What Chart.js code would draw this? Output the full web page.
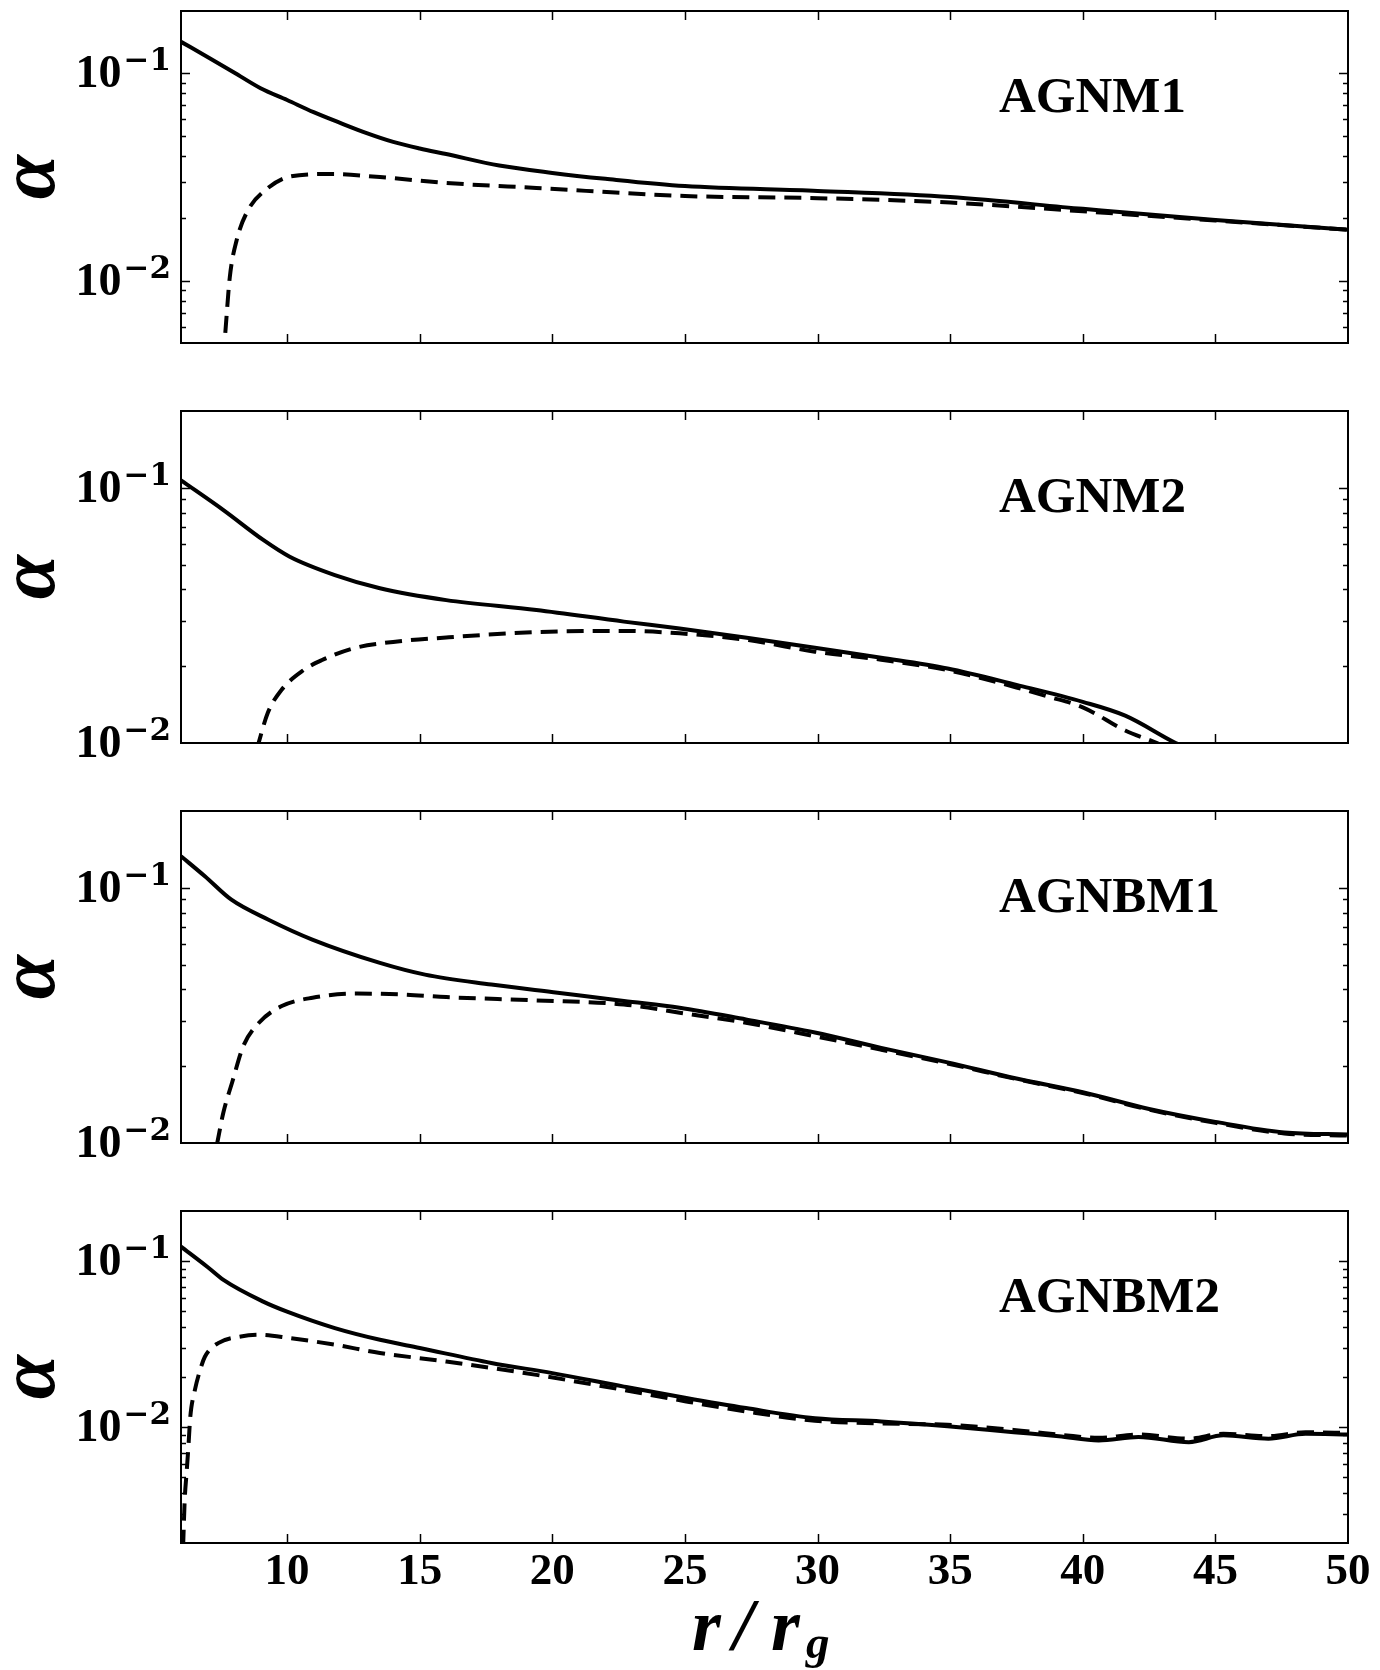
<!DOCTYPE html>
<html lang="en">
<head>
<meta charset="utf-8" />
<title>alpha vs r/rg</title>
<script src="https://cdn.jsdelivr.net/npm/chart.js@4.4.1/dist/chart.umd.min.js"></script>
<style>
  body { margin: 0; background: #fff; }
  #wrap { position: relative; width: 1380px; height: 1670px; background: #fff; }
  canvas { position: absolute; left: 0; }
</style>
</head>
<body>
<div id="wrap">
  <canvas id="c1" width="1380" height="400" style="top:0px"></canvas>
  <canvas id="c2" width="1380" height="400" style="top:400px"></canvas>
  <canvas id="c3" width="1380" height="400" style="top:800px"></canvas>
  <canvas id="c4" width="1380" height="470" style="top:1200px"></canvas>
</div>
<script>
// axis ticks / labels
const xTicks = [10, 15, 20, 25, 30, 35, 40, 45, 50];
const yMajorTicks = [0.1, 0.01];
const yMajorExp = ['\u22121', '\u22122'];
const panelNames = ['AGNM1', 'AGNM2', 'AGNBM1', 'AGNBM2'];
const yMins = [0.005, 0.01, 0.01, 0.002];
const yMax = 0.2;

// AGNM1
const m1SolidR = [6, 7, 8, 9, 10, 11, 12, 13, 14, 15, 16, 18, 20, 22, 25, 30, 35, 40, 45, 50];
const m1SolidA = [0.142, 0.120, 0.101, 0.0848, 0.0744, 0.0650, 0.0577, 0.0515, 0.0467, 0.0434, 0.0408, 0.0359, 0.0331, 0.0310, 0.0286, 0.0271, 0.0253, 0.0222, 0.0196, 0.0176];
const m1DashR = [7.67, 7.84, 8.10, 8.52, 9.19, 10.12, 11.63, 13.5, 16, 19.4, 25, 30, 35, 40, 45, 50];
const m1DashA = [0.0056, 0.0104, 0.0157, 0.0218, 0.0274, 0.0318, 0.0327, 0.0316, 0.0296, 0.0280, 0.0256, 0.0250, 0.0238, 0.0216, 0.0195, 0.0176];

// AGNM2
const m2SolidR = [6, 7.6, 9.1, 10.1, 11.8, 13.5, 16, 19.4, 22.7, 24.8, 27.4, 29.9, 32.4, 34.9, 37.5, 40, 41.6, 43.5, 45];
const m2SolidA = [0.107, 0.0818, 0.0625, 0.0537, 0.0455, 0.0404, 0.0363, 0.0332, 0.0299, 0.0281, 0.0258, 0.0236, 0.0216, 0.0196, 0.0169, 0.0145, 0.0128, 0.0100, 0.0085];
const m2DashR = [8.85, 9.27, 9.78, 10.62, 11.3, 12.5, 14.0, 16.0, 19.4, 22.7, 24.8, 27.4, 29.9, 32.4, 34.9, 37.5, 38.7, 40, 41.6, 42.8, 44];
const m2DashA = [0.0094, 0.0131, 0.0161, 0.0193, 0.0211, 0.0235, 0.0249, 0.0259, 0.0272, 0.0275, 0.0269, 0.0253, 0.0228, 0.0212, 0.0193, 0.0165, 0.0152, 0.0138, 0.0112, 0.0100, 0.0088];

// AGNBM1
const b1SolidR = [6, 6.9, 7.9, 9.3, 10.95, 13.5, 15.2, 17.7, 20.2, 22.7, 24.8, 27.3, 29.9, 32.4, 34.9, 37.5, 40, 42.5, 45, 47.6, 50];
const b1SolidA = [0.133, 0.111, 0.0898, 0.0750, 0.0627, 0.0508, 0.0457, 0.0418, 0.0388, 0.0360, 0.0339, 0.0305, 0.0271, 0.0236, 0.0207, 0.0179, 0.0158, 0.0136, 0.0121, 0.0110, 0.0108];
const b1DashR = [7.35, 7.6, 7.93, 8.35, 8.94, 9.8, 10.96, 12.6, 14.3, 16, 19.4, 22.7, 24.8, 27.3, 29.9, 32.4, 34.9, 37.5, 40, 42.5, 45, 47.6, 50];
const b1DashA = [0.0098, 0.0132, 0.0173, 0.0240, 0.0296, 0.0344, 0.0371, 0.0385, 0.0382, 0.0373, 0.0362, 0.0349, 0.0324, 0.0296, 0.0262, 0.0232, 0.0205, 0.0178, 0.0157, 0.0135, 0.0120, 0.0109, 0.0107];

// AGNBM2
const b2SolidR = [6, 7, 7.6, 9.1, 10, 11.8, 13.5, 15, 17.7, 20, 22.7, 25, 27.3, 29.9, 32.4, 34.9, 37.4, 39.1, 40.6, 42.1, 44.0, 45.3, 47.0, 48.4, 50];
const b2SolidA = [0.122, 0.092, 0.0769, 0.0569, 0.0495, 0.0394, 0.0335, 0.0299, 0.0243, 0.0211, 0.0175, 0.0150, 0.0130, 0.0113, 0.0108, 0.0101, 0.0093, 0.0088, 0.0083, 0.0087, 0.0081, 0.0089, 0.0085, 0.0091, 0.0090];
const b2DashR = [6.08, 6.14, 6.21, 6.28, 6.35, 6.52, 6.7, 6.9, 7.4, 8.26, 8.94, 10.1, 11.8, 13.5, 16, 19.4, 22.7, 25, 27.3, 29.9, 32.4, 34.9, 37.4, 40, 40.6, 42.1, 44, 45.3, 47, 48.4, 50];
const b2DashA = [0.0019, 0.00365, 0.00528, 0.00764, 0.0115, 0.0166, 0.0215, 0.0265, 0.0320, 0.0351, 0.0359, 0.0343, 0.0313, 0.0279, 0.0248, 0.0206, 0.0167, 0.0143, 0.0124, 0.0109, 0.0105, 0.0103, 0.0096, 0.0087, 0.0086, 0.0090, 0.0085, 0.0091, 0.0088, 0.0093, 0.0092];

const FONT = '"Liberation Serif", "DejaVu Serif", serif';
const EXPFONT = '"DejaVu Serif", "Liberation Serif", serif';

const pts = (rs, as) => rs.map((v, i) => ({x: v, y: as[i]}));

// frame, inward ticks, labels drawn on top of the plot
const framePlugin = {
  id: 'frame',
  afterDatasetsDraw(chart, args, opts) {
    const ctx = chart.ctx, a = chart.chartArea;
    const xs = chart.scales.x, ys = chart.scales.y;
    const seg = (x1, y1, x2, y2) => { ctx.beginPath(); ctx.moveTo(x1, y1); ctx.lineTo(x2, y2); ctx.stroke(); };
    ctx.save();
    ctx.strokeStyle = '#000';
    ctx.fillStyle = '#000';
    ctx.lineWidth = 1.5;
    xTicks.forEach(v => {
      const px = Math.round(xs.getPixelForValue(v)) + 0.5;
      if (px > a.right - 2) return;
      seg(px, a.bottom, px, a.bottom - 9);
      seg(px, a.top, px, a.top + 9);
    });
    for (let k = -4; k <= 0; k++) {
      for (let m = 1; m <= 9; m++) {
        const v = m * Math.pow(10, k);
        if (v <= ys.min * 1.001 || v >= ys.max * 0.999) continue;
        const py = Math.round(ys.getPixelForValue(v)) + 0.5;
        const len = m === 1 ? 9 : 5;
        seg(a.left, py, a.left + len, py);
        seg(a.right, py, a.right - len, py);
      }
    }
    ctx.lineWidth = 2;
    ctx.strokeRect(a.left, a.top, a.right - a.left, a.bottom - a.top);

    // y tick labels 10^k
    ctx.textAlign = 'right';
    ctx.textBaseline = 'alphabetic';
    yMajorTicks.forEach((v, i) => {
      const py = ys.getPixelForValue(v);
      ctx.font = 'bold 31px ' + EXPFONT;
      const ew = ctx.measureText(yMajorExp[i]).width;
      ctx.fillText(yMajorExp[i], 171, py - 3);
      ctx.font = 'bold 46px ' + FONT;
      ctx.fillText('10', 171 - ew - 2, py + 14);
    });

    // y axis title
    ctx.save();
    ctx.translate(54, (a.top + a.bottom) / 2);
    ctx.rotate(-Math.PI / 2);
    ctx.textAlign = 'center';
    ctx.font = 'italic bold 80px ' + FONT;
    ctx.fillText('\u03b1', 0, 0);
    ctx.restore();

    // panel name
    ctx.textAlign = 'left';
    ctx.font = 'bold 51px ' + FONT;
    ctx.fillText(opts.label, 999, a.top + 101);

    // x axis title r/r_g
    if (opts.xTitle) {
      const base = a.bottom + 107;
      ctx.font = 'italic bold 74px ' + FONT;
      ctx.fillText('r', 692, base);
      ctx.fillText('/', 733, base);
      ctx.fillText('r', 771, base);
      ctx.font = 'italic bold 47px ' + FONT;
      ctx.fillText('g', 806, base + 8);
    }
    ctx.restore();
  }
};

function makePanel(id, idx, solidR, solidA, dashR, dashA) {
  const showX = idx === 3;
  return new Chart(document.getElementById(id), {
    type: 'line',
    data: {
      datasets: [
        {data: pts(solidR, solidA), borderColor: '#000', borderWidth: 4, pointRadius: 0, cubicInterpolationMode: 'monotone', fill: false},
        {data: pts(dashR, dashA), borderColor: '#000', borderWidth: 4, borderDash: [17, 9], pointRadius: 0, cubicInterpolationMode: 'monotone', fill: false}
      ]
    },
    options: {
      responsive: false,
      animation: false,
      layout: {padding: {left: 181, right: 32, top: 11, bottom: showX ? 0 : 57}},
      plugins: {
        legend: {display: false},
        tooltip: {enabled: false},
        frame: {label: panelNames[idx], xTitle: showX}
      },
      scales: {
        x: {
          type: 'linear',
          min: 6,
          max: 50,
          display: showX,
          grid: {display: false, drawTicks: false},
          border: {display: false},
          afterBuildTicks: s => { s.ticks = xTicks.map(v => ({value: v})); },
          afterFit: s => { s.height = showX ? 127 : 0; },
          ticks: {
            color: '#000',
            padding: 2,
            maxRotation: 0,
            autoSkip: false,
            font: {family: FONT, size: 45, weight: 'bold'}
          }
        },
        y: {
          type: 'logarithmic',
          min: yMins[idx],
          max: yMax,
          display: false
        }
      }
    },
    plugins: [framePlugin]
  });
}

makePanel('c1', 0, m1SolidR, m1SolidA, m1DashR, m1DashA);
makePanel('c2', 1, m2SolidR, m2SolidA, m2DashR, m2DashA);
makePanel('c3', 2, b1SolidR, b1SolidA, b1DashR, b1DashA);
makePanel('c4', 3, b2SolidR, b2SolidA, b2DashR, b2DashA);
</script>
</body>
</html>
